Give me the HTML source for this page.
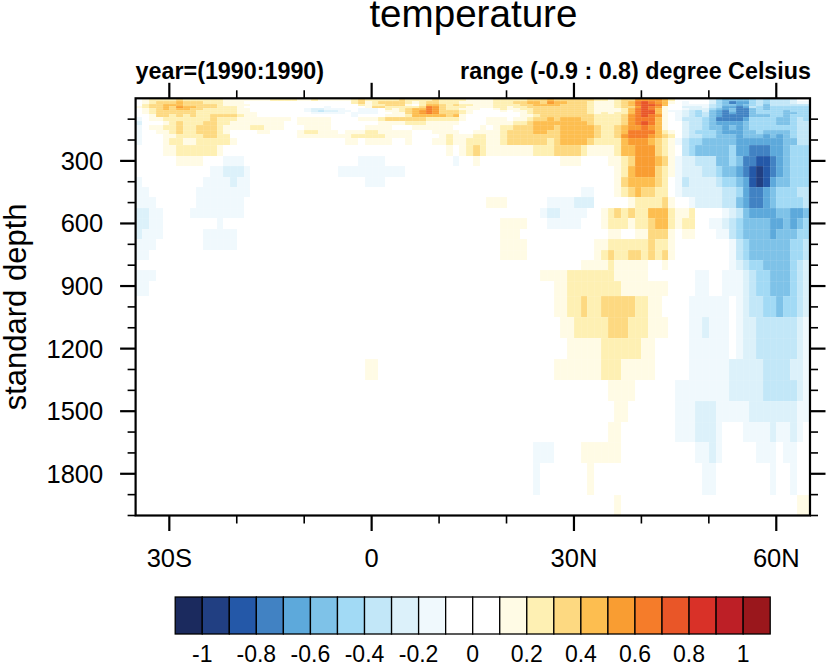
<!DOCTYPE html>
<html><head><meta charset="utf-8"><style>
html,body{margin:0;padding:0;background:#fff;width:827px;height:663px;overflow:hidden}
svg{position:absolute;left:0;top:0}
text{font-family:"Liberation Sans",sans-serif;fill:#000}
</style></head><body>
<svg width="827" height="663" viewBox="0 0 827 663">
<g shape-rendering="crispEdges"><rect x="142" y="98" width="7" height="3" fill="#fffbe5"/><rect x="149" y="98" width="27" height="3" fill="#fef0b3"/><rect x="176" y="98" width="7" height="3" fill="#fdd981"/><rect x="183" y="98" width="40" height="3" fill="#fef0b3"/><rect x="223" y="98" width="47" height="3" fill="#fffbe5"/><rect x="270" y="98" width="27" height="3" fill="#fef0b3"/><rect x="297" y="98" width="14" height="3" fill="#fffbe5"/><rect x="311" y="98" width="7" height="3" fill="#fef0b3"/><rect x="318" y="98" width="33" height="3" fill="#fffbe5"/><rect x="351" y="98" width="7" height="3" fill="#fef0b3"/><rect x="358" y="98" width="7" height="3" fill="#fdd981"/><rect x="365" y="98" width="34" height="3" fill="#fef0b3"/><rect x="399" y="98" width="6" height="3" fill="#fdd981"/><rect x="405" y="98" width="27" height="3" fill="#fef0b3"/><rect x="432" y="98" width="7" height="3" fill="#fdd981"/><rect x="439" y="98" width="27" height="3" fill="#fef0b3"/><rect x="466" y="98" width="27" height="3" fill="#fffbe5"/><rect x="493" y="98" width="34" height="3" fill="#fef0b3"/><rect x="527" y="98" width="20" height="3" fill="#fdd981"/><rect x="547" y="98" width="7" height="3" fill="#fdbe50"/><rect x="554" y="98" width="40" height="3" fill="#fdd981"/><rect x="594" y="98" width="14" height="3" fill="#fef0b3"/><rect x="608" y="98" width="6" height="3" fill="#fffbe5"/><rect x="614" y="98" width="7" height="3" fill="#fef0b3"/><rect x="621" y="98" width="14" height="3" fill="#fdd981"/><rect x="635" y="98" width="27" height="3" fill="#f99d32"/><rect x="662" y="98" width="6" height="3" fill="#fdbe50"/><rect x="668" y="98" width="7" height="3" fill="#fef0b3"/><rect x="709" y="98" width="7" height="3" fill="#dcf1fa"/><rect x="716" y="98" width="6" height="3" fill="#a2daf5"/><rect x="722" y="98" width="27" height="3" fill="#7ec2e8"/><rect x="749" y="98" width="7" height="3" fill="#a2daf5"/><rect x="756" y="98" width="7" height="3" fill="#c2e7f8"/><rect x="763" y="98" width="7" height="3" fill="#a2daf5"/><rect x="770" y="98" width="20" height="3" fill="#c2e7f8"/><rect x="790" y="98" width="7" height="3" fill="#dcf1fa"/><rect x="142" y="101" width="7" height="3" fill="#fffbe5"/><rect x="149" y="101" width="7" height="3" fill="#fef0b3"/><rect x="156" y="101" width="20" height="3" fill="#fdd981"/><rect x="176" y="101" width="7" height="3" fill="#fdbe50"/><rect x="183" y="101" width="20" height="3" fill="#fdd981"/><rect x="203" y="101" width="20" height="3" fill="#fef0b3"/><rect x="223" y="101" width="21" height="3" fill="#fffbe5"/><rect x="351" y="101" width="7" height="3" fill="#fef0b3"/><rect x="358" y="101" width="7" height="3" fill="#fdd981"/><rect x="365" y="101" width="7" height="3" fill="#fffbe5"/><rect x="372" y="101" width="6" height="3" fill="#fef0b3"/><rect x="378" y="101" width="27" height="3" fill="#fdd981"/><rect x="405" y="101" width="7" height="3" fill="#fef0b3"/><rect x="412" y="101" width="7" height="3" fill="#fffbe5"/><rect x="419" y="101" width="7" height="3" fill="#fef0b3"/><rect x="426" y="101" width="13" height="3" fill="#fdd981"/><rect x="439" y="101" width="20" height="3" fill="#fef0b3"/><rect x="459" y="101" width="34" height="3" fill="#fffbe5"/><rect x="493" y="101" width="20" height="3" fill="#fef0b3"/><rect x="513" y="101" width="14" height="3" fill="#fdd981"/><rect x="527" y="101" width="13" height="3" fill="#fdbe50"/><rect x="540" y="101" width="7" height="3" fill="#fdd981"/><rect x="547" y="101" width="7" height="3" fill="#f99d32"/><rect x="554" y="101" width="13" height="3" fill="#fdbe50"/><rect x="567" y="101" width="20" height="3" fill="#fdd981"/><rect x="587" y="101" width="7" height="3" fill="#fef0b3"/><rect x="594" y="101" width="20" height="3" fill="#fffbe5"/><rect x="614" y="101" width="7" height="3" fill="#fef0b3"/><rect x="621" y="101" width="7" height="3" fill="#fdd981"/><rect x="628" y="101" width="7" height="3" fill="#fdbe50"/><rect x="635" y="101" width="6" height="3" fill="#f57c2a"/><rect x="641" y="101" width="7" height="3" fill="#e95628"/><rect x="648" y="101" width="7" height="3" fill="#f57c2a"/><rect x="655" y="101" width="7" height="3" fill="#f99d32"/><rect x="662" y="101" width="6" height="3" fill="#fdbe50"/><rect x="668" y="101" width="7" height="3" fill="#fffbe5"/><rect x="682" y="101" width="7" height="3" fill="#f0f9fd"/><rect x="709" y="101" width="7" height="3" fill="#dcf1fa"/><rect x="716" y="101" width="6" height="3" fill="#a2daf5"/><rect x="722" y="101" width="7" height="3" fill="#7ec2e8"/><rect x="729" y="101" width="7" height="3" fill="#4182c3"/><rect x="736" y="101" width="13" height="3" fill="#5da9db"/><rect x="749" y="101" width="7" height="3" fill="#a2daf5"/><rect x="756" y="101" width="7" height="3" fill="#c2e7f8"/><rect x="763" y="101" width="7" height="3" fill="#a2daf5"/><rect x="770" y="101" width="20" height="3" fill="#c2e7f8"/><rect x="790" y="101" width="7" height="3" fill="#dcf1fa"/><rect x="797" y="101" width="13" height="3" fill="#f0f9fd"/><rect x="142" y="104" width="7" height="2" fill="#fef0b3"/><rect x="149" y="104" width="14" height="2" fill="#fdd981"/><rect x="163" y="104" width="20" height="2" fill="#fdbe50"/><rect x="183" y="104" width="34" height="2" fill="#fdd981"/><rect x="217" y="104" width="6" height="2" fill="#fef0b3"/><rect x="223" y="104" width="27" height="2" fill="#fffbe5"/><rect x="358" y="104" width="7" height="2" fill="#fef0b3"/><rect x="365" y="104" width="7" height="2" fill="#fffbe5"/><rect x="372" y="104" width="13" height="2" fill="#fef0b3"/><rect x="385" y="104" width="20" height="2" fill="#fdd981"/><rect x="405" y="104" width="7" height="2" fill="#fffbe5"/><rect x="419" y="104" width="7" height="2" fill="#fef0b3"/><rect x="426" y="104" width="13" height="2" fill="#fdbe50"/><rect x="439" y="104" width="7" height="2" fill="#fdd981"/><rect x="446" y="104" width="7" height="2" fill="#fef0b3"/><rect x="453" y="104" width="6" height="2" fill="#fdd981"/><rect x="459" y="104" width="14" height="2" fill="#fef0b3"/><rect x="473" y="104" width="20" height="2" fill="#fffbe5"/><rect x="493" y="104" width="27" height="2" fill="#fef0b3"/><rect x="520" y="104" width="13" height="2" fill="#fdd981"/><rect x="533" y="104" width="27" height="2" fill="#fdbe50"/><rect x="560" y="104" width="27" height="2" fill="#fdd981"/><rect x="587" y="104" width="7" height="2" fill="#fef0b3"/><rect x="594" y="104" width="20" height="2" fill="#fffbe5"/><rect x="614" y="104" width="7" height="2" fill="#fef0b3"/><rect x="621" y="104" width="7" height="2" fill="#fdd981"/><rect x="628" y="104" width="7" height="2" fill="#fdbe50"/><rect x="635" y="104" width="6" height="2" fill="#f57c2a"/><rect x="641" y="104" width="14" height="2" fill="#e95628"/><rect x="655" y="104" width="7" height="2" fill="#f57c2a"/><rect x="662" y="104" width="6" height="2" fill="#fdbe50"/><rect x="682" y="104" width="27" height="2" fill="#f0f9fd"/><rect x="709" y="104" width="7" height="2" fill="#c2e7f8"/><rect x="716" y="104" width="6" height="2" fill="#a2daf5"/><rect x="722" y="104" width="14" height="2" fill="#7ec2e8"/><rect x="736" y="104" width="7" height="2" fill="#5da9db"/><rect x="743" y="104" width="6" height="2" fill="#7ec2e8"/><rect x="749" y="104" width="7" height="2" fill="#a2daf5"/><rect x="756" y="104" width="7" height="2" fill="#c2e7f8"/><rect x="763" y="104" width="7" height="2" fill="#7ec2e8"/><rect x="770" y="104" width="40" height="2" fill="#c2e7f8"/><rect x="136" y="106" width="6" height="2" fill="#fffbe5"/><rect x="142" y="106" width="7" height="2" fill="#fef0b3"/><rect x="149" y="106" width="14" height="2" fill="#fdd981"/><rect x="163" y="106" width="6" height="2" fill="#fdbe50"/><rect x="169" y="106" width="7" height="2" fill="#fdd981"/><rect x="176" y="106" width="7" height="2" fill="#f99d32"/><rect x="183" y="106" width="13" height="2" fill="#fdbe50"/><rect x="196" y="106" width="21" height="2" fill="#fdd981"/><rect x="217" y="106" width="20" height="2" fill="#fef0b3"/><rect x="237" y="106" width="7" height="2" fill="#fffbe5"/><rect x="324" y="106" width="7" height="2" fill="#f0f9fd"/><rect x="365" y="106" width="7" height="2" fill="#fffbe5"/><rect x="372" y="106" width="13" height="2" fill="#fdd981"/><rect x="385" y="106" width="34" height="2" fill="#fef0b3"/><rect x="419" y="106" width="7" height="2" fill="#fdd981"/><rect x="426" y="106" width="6" height="2" fill="#f57c2a"/><rect x="432" y="106" width="7" height="2" fill="#f99d32"/><rect x="439" y="106" width="7" height="2" fill="#fdd981"/><rect x="446" y="106" width="20" height="2" fill="#fef0b3"/><rect x="466" y="106" width="27" height="2" fill="#fffbe5"/><rect x="493" y="106" width="14" height="2" fill="#fef0b3"/><rect x="507" y="106" width="6" height="2" fill="#fffbe5"/><rect x="513" y="106" width="14" height="2" fill="#fef0b3"/><rect x="527" y="106" width="60" height="2" fill="#fdd981"/><rect x="587" y="106" width="7" height="2" fill="#fef0b3"/><rect x="594" y="106" width="20" height="2" fill="#fffbe5"/><rect x="614" y="106" width="7" height="2" fill="#fef0b3"/><rect x="621" y="106" width="14" height="2" fill="#fdd981"/><rect x="635" y="106" width="6" height="2" fill="#f99d32"/><rect x="641" y="106" width="7" height="2" fill="#e95628"/><rect x="648" y="106" width="7" height="2" fill="#f57c2a"/><rect x="655" y="106" width="7" height="2" fill="#f99d32"/><rect x="662" y="106" width="6" height="2" fill="#fffbe5"/><rect x="682" y="106" width="20" height="2" fill="#dcf1fa"/><rect x="702" y="106" width="7" height="2" fill="#f0f9fd"/><rect x="709" y="106" width="7" height="2" fill="#c2e7f8"/><rect x="716" y="106" width="6" height="2" fill="#a2daf5"/><rect x="722" y="106" width="14" height="2" fill="#5da9db"/><rect x="736" y="106" width="7" height="2" fill="#4182c3"/><rect x="743" y="106" width="6" height="2" fill="#5da9db"/><rect x="749" y="106" width="7" height="2" fill="#c2e7f8"/><rect x="756" y="106" width="7" height="2" fill="#a2daf5"/><rect x="763" y="106" width="7" height="2" fill="#7ec2e8"/><rect x="770" y="106" width="40" height="2" fill="#a2daf5"/><rect x="142" y="108" width="7" height="2" fill="#fffbe5"/><rect x="149" y="108" width="7" height="2" fill="#fef0b3"/><rect x="156" y="108" width="7" height="2" fill="#fdd981"/><rect x="163" y="108" width="6" height="2" fill="#fdbe50"/><rect x="169" y="108" width="7" height="2" fill="#fdd981"/><rect x="176" y="108" width="14" height="2" fill="#fdbe50"/><rect x="190" y="108" width="13" height="2" fill="#fdd981"/><rect x="203" y="108" width="34" height="2" fill="#fef0b3"/><rect x="237" y="108" width="13" height="2" fill="#fffbe5"/><rect x="304" y="108" width="7" height="2" fill="#f0f9fd"/><rect x="311" y="108" width="13" height="2" fill="#dcf1fa"/><rect x="324" y="108" width="21" height="2" fill="#f0f9fd"/><rect x="358" y="108" width="20" height="2" fill="#f0f9fd"/><rect x="385" y="108" width="7" height="2" fill="#fef0b3"/><rect x="392" y="108" width="7" height="2" fill="#fffbe5"/><rect x="399" y="108" width="6" height="2" fill="#fef0b3"/><rect x="405" y="108" width="7" height="2" fill="#fdd981"/><rect x="412" y="108" width="14" height="2" fill="#fdbe50"/><rect x="426" y="108" width="6" height="2" fill="#f57c2a"/><rect x="432" y="108" width="7" height="2" fill="#f99d32"/><rect x="439" y="108" width="7" height="2" fill="#fdd981"/><rect x="446" y="108" width="13" height="2" fill="#fef0b3"/><rect x="459" y="108" width="21" height="2" fill="#fffbe5"/><rect x="493" y="108" width="7" height="2" fill="#fffbe5"/><rect x="500" y="108" width="7" height="2" fill="#fef0b3"/><rect x="507" y="108" width="13" height="2" fill="#fffbe5"/><rect x="520" y="108" width="13" height="2" fill="#fef0b3"/><rect x="533" y="108" width="54" height="2" fill="#fdd981"/><rect x="587" y="108" width="7" height="2" fill="#fef0b3"/><rect x="594" y="108" width="27" height="2" fill="#fffbe5"/><rect x="621" y="108" width="7" height="2" fill="#fef0b3"/><rect x="628" y="108" width="7" height="2" fill="#fdbe50"/><rect x="635" y="108" width="6" height="2" fill="#f57c2a"/><rect x="641" y="108" width="7" height="2" fill="#e95628"/><rect x="648" y="108" width="7" height="2" fill="#f57c2a"/><rect x="655" y="108" width="7" height="2" fill="#fdbe50"/><rect x="662" y="108" width="6" height="2" fill="#fffbe5"/><rect x="682" y="108" width="7" height="2" fill="#f0f9fd"/><rect x="689" y="108" width="20" height="2" fill="#dcf1fa"/><rect x="709" y="108" width="7" height="2" fill="#a2daf5"/><rect x="716" y="108" width="6" height="2" fill="#7ec2e8"/><rect x="722" y="108" width="7" height="2" fill="#5da9db"/><rect x="729" y="108" width="7" height="2" fill="#7ec2e8"/><rect x="736" y="108" width="13" height="2" fill="#4182c3"/><rect x="749" y="108" width="7" height="2" fill="#7ec2e8"/><rect x="756" y="108" width="7" height="2" fill="#a2daf5"/><rect x="763" y="108" width="7" height="2" fill="#7ec2e8"/><rect x="770" y="108" width="40" height="2" fill="#a2daf5"/><rect x="142" y="110" width="7" height="2" fill="#fffbe5"/><rect x="149" y="110" width="7" height="2" fill="#fef0b3"/><rect x="156" y="110" width="40" height="2" fill="#fdd981"/><rect x="196" y="110" width="41" height="2" fill="#fef0b3"/><rect x="237" y="110" width="13" height="2" fill="#fffbe5"/><rect x="304" y="110" width="7" height="2" fill="#f0f9fd"/><rect x="311" y="110" width="7" height="2" fill="#dcf1fa"/><rect x="318" y="110" width="6" height="2" fill="#c2e7f8"/><rect x="324" y="110" width="14" height="2" fill="#dcf1fa"/><rect x="338" y="110" width="13" height="2" fill="#f0f9fd"/><rect x="358" y="110" width="20" height="2" fill="#f0f9fd"/><rect x="385" y="110" width="14" height="2" fill="#fffbe5"/><rect x="399" y="110" width="6" height="2" fill="#fef0b3"/><rect x="405" y="110" width="7" height="2" fill="#fdd981"/><rect x="412" y="110" width="7" height="2" fill="#fdbe50"/><rect x="419" y="110" width="7" height="2" fill="#f99d32"/><rect x="426" y="110" width="6" height="2" fill="#f57c2a"/><rect x="432" y="110" width="7" height="2" fill="#f99d32"/><rect x="439" y="110" width="20" height="2" fill="#fdd981"/><rect x="459" y="110" width="7" height="2" fill="#fef0b3"/><rect x="466" y="110" width="7" height="2" fill="#fffbe5"/><rect x="500" y="110" width="7" height="2" fill="#fffbe5"/><rect x="513" y="110" width="14" height="2" fill="#fffbe5"/><rect x="527" y="110" width="6" height="2" fill="#fef0b3"/><rect x="533" y="110" width="54" height="2" fill="#fdd981"/><rect x="587" y="110" width="7" height="2" fill="#fef0b3"/><rect x="594" y="110" width="27" height="2" fill="#fffbe5"/><rect x="621" y="110" width="7" height="2" fill="#fef0b3"/><rect x="628" y="110" width="7" height="2" fill="#fdbe50"/><rect x="635" y="110" width="6" height="2" fill="#f57c2a"/><rect x="641" y="110" width="14" height="2" fill="#e95628"/><rect x="655" y="110" width="7" height="2" fill="#fdbe50"/><rect x="662" y="110" width="6" height="2" fill="#fffbe5"/><rect x="668" y="110" width="14" height="2" fill="#f0f9fd"/><rect x="682" y="110" width="7" height="2" fill="#dcf1fa"/><rect x="689" y="110" width="6" height="2" fill="#c2e7f8"/><rect x="695" y="110" width="7" height="2" fill="#a2daf5"/><rect x="702" y="110" width="7" height="2" fill="#dcf1fa"/><rect x="709" y="110" width="7" height="2" fill="#7ec2e8"/><rect x="716" y="110" width="6" height="2" fill="#5da9db"/><rect x="722" y="110" width="7" height="2" fill="#4182c3"/><rect x="729" y="110" width="7" height="2" fill="#7ec2e8"/><rect x="736" y="110" width="13" height="2" fill="#4182c3"/><rect x="749" y="110" width="7" height="2" fill="#7ec2e8"/><rect x="756" y="110" width="27" height="2" fill="#a2daf5"/><rect x="783" y="110" width="7" height="2" fill="#7ec2e8"/><rect x="790" y="110" width="20" height="2" fill="#a2daf5"/><rect x="142" y="112" width="7" height="2" fill="#fffbe5"/><rect x="149" y="112" width="7" height="2" fill="#fef0b3"/><rect x="156" y="112" width="40" height="2" fill="#fdd981"/><rect x="196" y="112" width="41" height="2" fill="#fef0b3"/><rect x="237" y="112" width="20" height="2" fill="#fffbe5"/><rect x="311" y="112" width="34" height="2" fill="#f0f9fd"/><rect x="351" y="112" width="27" height="2" fill="#f0f9fd"/><rect x="392" y="112" width="13" height="2" fill="#fffbe5"/><rect x="405" y="112" width="7" height="2" fill="#fdd981"/><rect x="412" y="112" width="7" height="2" fill="#fdbe50"/><rect x="419" y="112" width="7" height="2" fill="#f99d32"/><rect x="426" y="112" width="6" height="2" fill="#f57c2a"/><rect x="432" y="112" width="7" height="2" fill="#f99d32"/><rect x="439" y="112" width="20" height="2" fill="#fdd981"/><rect x="459" y="112" width="7" height="2" fill="#fef0b3"/><rect x="466" y="112" width="7" height="2" fill="#fffbe5"/><rect x="520" y="112" width="7" height="2" fill="#fffbe5"/><rect x="527" y="112" width="6" height="2" fill="#fef0b3"/><rect x="533" y="112" width="54" height="2" fill="#fdd981"/><rect x="587" y="112" width="7" height="2" fill="#fef0b3"/><rect x="594" y="112" width="7" height="2" fill="#fffbe5"/><rect x="601" y="112" width="7" height="2" fill="#fef0b3"/><rect x="608" y="112" width="6" height="2" fill="#fffbe5"/><rect x="614" y="112" width="14" height="2" fill="#fef0b3"/><rect x="628" y="112" width="7" height="2" fill="#fdbe50"/><rect x="635" y="112" width="6" height="2" fill="#f57c2a"/><rect x="641" y="112" width="14" height="2" fill="#e95628"/><rect x="655" y="112" width="7" height="2" fill="#fdbe50"/><rect x="662" y="112" width="6" height="2" fill="#fffbe5"/><rect x="675" y="112" width="7" height="2" fill="#f0f9fd"/><rect x="682" y="112" width="7" height="2" fill="#dcf1fa"/><rect x="689" y="112" width="6" height="2" fill="#c2e7f8"/><rect x="695" y="112" width="7" height="2" fill="#a2daf5"/><rect x="702" y="112" width="7" height="2" fill="#c2e7f8"/><rect x="709" y="112" width="7" height="2" fill="#7ec2e8"/><rect x="716" y="112" width="6" height="2" fill="#5da9db"/><rect x="722" y="112" width="7" height="2" fill="#4182c3"/><rect x="729" y="112" width="7" height="2" fill="#5da9db"/><rect x="736" y="112" width="13" height="2" fill="#4182c3"/><rect x="749" y="112" width="7" height="2" fill="#7ec2e8"/><rect x="756" y="112" width="27" height="2" fill="#a2daf5"/><rect x="783" y="112" width="14" height="2" fill="#7ec2e8"/><rect x="797" y="112" width="13" height="2" fill="#a2daf5"/><rect x="149" y="114" width="7" height="3" fill="#fffbe5"/><rect x="156" y="114" width="13" height="3" fill="#fdd981"/><rect x="169" y="114" width="7" height="3" fill="#fef0b3"/><rect x="176" y="114" width="7" height="3" fill="#fdd981"/><rect x="183" y="114" width="7" height="3" fill="#fef0b3"/><rect x="190" y="114" width="6" height="3" fill="#fdd981"/><rect x="196" y="114" width="14" height="3" fill="#fef0b3"/><rect x="210" y="114" width="27" height="3" fill="#fdd981"/><rect x="237" y="114" width="7" height="3" fill="#fef0b3"/><rect x="244" y="114" width="13" height="3" fill="#fffbe5"/><rect x="351" y="114" width="7" height="3" fill="#f0f9fd"/><rect x="385" y="114" width="20" height="3" fill="#fffbe5"/><rect x="405" y="114" width="7" height="3" fill="#fef0b3"/><rect x="412" y="114" width="34" height="3" fill="#fdbe50"/><rect x="446" y="114" width="7" height="3" fill="#fdd981"/><rect x="453" y="114" width="6" height="3" fill="#fdbe50"/><rect x="459" y="114" width="7" height="3" fill="#fffbe5"/><rect x="520" y="114" width="13" height="3" fill="#fffbe5"/><rect x="533" y="114" width="7" height="3" fill="#fef0b3"/><rect x="540" y="114" width="54" height="3" fill="#fdd981"/><rect x="594" y="114" width="27" height="3" fill="#fef0b3"/><rect x="621" y="114" width="7" height="3" fill="#fdd981"/><rect x="628" y="114" width="7" height="3" fill="#f99d32"/><rect x="635" y="114" width="6" height="3" fill="#f57c2a"/><rect x="641" y="114" width="7" height="3" fill="#e95628"/><rect x="648" y="114" width="7" height="3" fill="#f57c2a"/><rect x="655" y="114" width="7" height="3" fill="#f99d32"/><rect x="662" y="114" width="6" height="3" fill="#fffbe5"/><rect x="675" y="114" width="7" height="3" fill="#f0f9fd"/><rect x="682" y="114" width="7" height="3" fill="#dcf1fa"/><rect x="689" y="114" width="6" height="3" fill="#c2e7f8"/><rect x="695" y="114" width="7" height="3" fill="#a2daf5"/><rect x="702" y="114" width="7" height="3" fill="#c2e7f8"/><rect x="709" y="114" width="7" height="3" fill="#7ec2e8"/><rect x="716" y="114" width="6" height="3" fill="#5da9db"/><rect x="722" y="114" width="27" height="3" fill="#4182c3"/><rect x="749" y="114" width="21" height="3" fill="#7ec2e8"/><rect x="770" y="114" width="13" height="3" fill="#a2daf5"/><rect x="783" y="114" width="7" height="3" fill="#7ec2e8"/><rect x="790" y="114" width="20" height="3" fill="#a2daf5"/><rect x="136" y="117" width="6" height="4" fill="#f0f9fd"/><rect x="149" y="117" width="14" height="4" fill="#fffbe5"/><rect x="163" y="117" width="47" height="4" fill="#fef0b3"/><rect x="210" y="117" width="7" height="4" fill="#fdd981"/><rect x="217" y="117" width="20" height="4" fill="#fef0b3"/><rect x="237" y="117" width="54" height="4" fill="#fffbe5"/><rect x="297" y="117" width="34" height="4" fill="#fffbe5"/><rect x="358" y="117" width="20" height="4" fill="#fffbe5"/><rect x="378" y="117" width="7" height="4" fill="#fef0b3"/><rect x="385" y="117" width="41" height="4" fill="#fdd981"/><rect x="426" y="117" width="33" height="4" fill="#fef0b3"/><rect x="459" y="117" width="7" height="4" fill="#fffbe5"/><rect x="486" y="117" width="21" height="4" fill="#fffbe5"/><rect x="513" y="117" width="14" height="4" fill="#fffbe5"/><rect x="527" y="117" width="6" height="4" fill="#fef0b3"/><rect x="533" y="117" width="14" height="4" fill="#fdd981"/><rect x="547" y="117" width="7" height="4" fill="#fdbe50"/><rect x="554" y="117" width="6" height="4" fill="#fdd981"/><rect x="560" y="117" width="21" height="4" fill="#fdbe50"/><rect x="581" y="117" width="13" height="4" fill="#fdd981"/><rect x="594" y="117" width="27" height="4" fill="#fef0b3"/><rect x="621" y="117" width="7" height="4" fill="#fdd981"/><rect x="628" y="117" width="7" height="4" fill="#f99d32"/><rect x="635" y="117" width="20" height="4" fill="#f57c2a"/><rect x="655" y="117" width="7" height="4" fill="#fdbe50"/><rect x="662" y="117" width="6" height="4" fill="#fffbe5"/><rect x="675" y="117" width="7" height="4" fill="#f0f9fd"/><rect x="682" y="117" width="20" height="4" fill="#c2e7f8"/><rect x="702" y="117" width="7" height="4" fill="#a2daf5"/><rect x="709" y="117" width="7" height="4" fill="#7ec2e8"/><rect x="716" y="117" width="27" height="4" fill="#4182c3"/><rect x="743" y="117" width="6" height="4" fill="#5da9db"/><rect x="749" y="117" width="27" height="4" fill="#a2daf5"/><rect x="776" y="117" width="14" height="4" fill="#7ec2e8"/><rect x="790" y="117" width="7" height="4" fill="#a2daf5"/><rect x="797" y="117" width="6" height="4" fill="#c2e7f8"/><rect x="803" y="117" width="7" height="4" fill="#a2daf5"/><rect x="136" y="121" width="6" height="4" fill="#dcf1fa"/><rect x="163" y="121" width="6" height="4" fill="#fffbe5"/><rect x="169" y="121" width="7" height="4" fill="#fef0b3"/><rect x="176" y="121" width="7" height="4" fill="#fdd981"/><rect x="183" y="121" width="20" height="4" fill="#fef0b3"/><rect x="203" y="121" width="14" height="4" fill="#fdd981"/><rect x="217" y="121" width="13" height="4" fill="#fef0b3"/><rect x="230" y="121" width="54" height="4" fill="#fffbe5"/><rect x="297" y="121" width="34" height="4" fill="#fffbe5"/><rect x="378" y="121" width="27" height="4" fill="#fffbe5"/><rect x="405" y="121" width="21" height="4" fill="#fef0b3"/><rect x="426" y="121" width="33" height="4" fill="#fffbe5"/><rect x="486" y="121" width="27" height="4" fill="#fffbe5"/><rect x="513" y="121" width="14" height="4" fill="#fef0b3"/><rect x="527" y="121" width="6" height="4" fill="#fdd981"/><rect x="533" y="121" width="54" height="4" fill="#fdbe50"/><rect x="587" y="121" width="7" height="4" fill="#fdd981"/><rect x="594" y="121" width="27" height="4" fill="#fef0b3"/><rect x="621" y="121" width="7" height="4" fill="#fdd981"/><rect x="628" y="121" width="7" height="4" fill="#f99d32"/><rect x="635" y="121" width="6" height="4" fill="#f57c2a"/><rect x="641" y="121" width="7" height="4" fill="#e95628"/><rect x="648" y="121" width="7" height="4" fill="#f57c2a"/><rect x="655" y="121" width="7" height="4" fill="#fdbe50"/><rect x="662" y="121" width="6" height="4" fill="#fffbe5"/><rect x="682" y="121" width="7" height="4" fill="#dcf1fa"/><rect x="689" y="121" width="13" height="4" fill="#c2e7f8"/><rect x="702" y="121" width="7" height="4" fill="#a2daf5"/><rect x="709" y="121" width="7" height="4" fill="#7ec2e8"/><rect x="716" y="121" width="27" height="4" fill="#5da9db"/><rect x="743" y="121" width="6" height="4" fill="#7ec2e8"/><rect x="749" y="121" width="27" height="4" fill="#a2daf5"/><rect x="776" y="121" width="14" height="4" fill="#7ec2e8"/><rect x="790" y="121" width="7" height="4" fill="#a2daf5"/><rect x="797" y="121" width="13" height="4" fill="#c2e7f8"/><rect x="136" y="125" width="6" height="5" fill="#f0f9fd"/><rect x="149" y="125" width="14" height="5" fill="#fffbe5"/><rect x="163" y="125" width="13" height="5" fill="#fef0b3"/><rect x="176" y="125" width="7" height="5" fill="#fdd981"/><rect x="183" y="125" width="13" height="5" fill="#fef0b3"/><rect x="196" y="125" width="21" height="5" fill="#fdd981"/><rect x="217" y="125" width="6" height="5" fill="#fef0b3"/><rect x="223" y="125" width="27" height="5" fill="#fffbe5"/><rect x="250" y="125" width="14" height="5" fill="#fef0b3"/><rect x="264" y="125" width="20" height="5" fill="#fffbe5"/><rect x="304" y="125" width="27" height="5" fill="#fffbe5"/><rect x="365" y="125" width="27" height="5" fill="#fffbe5"/><rect x="412" y="125" width="41" height="5" fill="#fffbe5"/><rect x="480" y="125" width="6" height="5" fill="#fffbe5"/><rect x="493" y="125" width="7" height="5" fill="#fffbe5"/><rect x="500" y="125" width="13" height="5" fill="#fef0b3"/><rect x="513" y="125" width="20" height="5" fill="#fdd981"/><rect x="533" y="125" width="21" height="5" fill="#fdbe50"/><rect x="554" y="125" width="6" height="5" fill="#fdd981"/><rect x="560" y="125" width="34" height="5" fill="#fdbe50"/><rect x="594" y="125" width="7" height="5" fill="#fdd981"/><rect x="601" y="125" width="13" height="5" fill="#fef0b3"/><rect x="614" y="125" width="7" height="5" fill="#fdd981"/><rect x="621" y="125" width="7" height="5" fill="#fdbe50"/><rect x="628" y="125" width="13" height="5" fill="#f99d32"/><rect x="641" y="125" width="7" height="5" fill="#f57c2a"/><rect x="648" y="125" width="7" height="5" fill="#f99d32"/><rect x="655" y="125" width="7" height="5" fill="#fdbe50"/><rect x="662" y="125" width="6" height="5" fill="#fffbe5"/><rect x="682" y="125" width="7" height="5" fill="#dcf1fa"/><rect x="689" y="125" width="13" height="5" fill="#c2e7f8"/><rect x="702" y="125" width="7" height="5" fill="#a2daf5"/><rect x="709" y="125" width="13" height="5" fill="#7ec2e8"/><rect x="722" y="125" width="7" height="5" fill="#5da9db"/><rect x="729" y="125" width="7" height="5" fill="#7ec2e8"/><rect x="736" y="125" width="7" height="5" fill="#5da9db"/><rect x="743" y="125" width="6" height="5" fill="#7ec2e8"/><rect x="749" y="125" width="48" height="5" fill="#a2daf5"/><rect x="797" y="125" width="13" height="5" fill="#c2e7f8"/><rect x="136" y="130" width="6" height="4" fill="#f0f9fd"/><rect x="156" y="130" width="13" height="4" fill="#fffbe5"/><rect x="169" y="130" width="7" height="4" fill="#fef0b3"/><rect x="176" y="130" width="7" height="4" fill="#fdd981"/><rect x="183" y="130" width="13" height="4" fill="#fef0b3"/><rect x="196" y="130" width="21" height="4" fill="#fdd981"/><rect x="217" y="130" width="6" height="4" fill="#fef0b3"/><rect x="223" y="130" width="7" height="4" fill="#fffbe5"/><rect x="257" y="130" width="13" height="4" fill="#fffbe5"/><rect x="297" y="130" width="7" height="4" fill="#fffbe5"/><rect x="304" y="130" width="14" height="4" fill="#fef0b3"/><rect x="318" y="130" width="20" height="4" fill="#fffbe5"/><rect x="345" y="130" width="20" height="4" fill="#fffbe5"/><rect x="365" y="130" width="13" height="4" fill="#fef0b3"/><rect x="378" y="130" width="34" height="4" fill="#fffbe5"/><rect x="432" y="130" width="27" height="4" fill="#fffbe5"/><rect x="473" y="130" width="27" height="4" fill="#fffbe5"/><rect x="500" y="130" width="7" height="4" fill="#fef0b3"/><rect x="507" y="130" width="26" height="4" fill="#fdd981"/><rect x="533" y="130" width="14" height="4" fill="#fdbe50"/><rect x="547" y="130" width="13" height="4" fill="#fdd981"/><rect x="560" y="130" width="34" height="4" fill="#fdbe50"/><rect x="594" y="130" width="7" height="4" fill="#fdd981"/><rect x="601" y="130" width="13" height="4" fill="#fef0b3"/><rect x="614" y="130" width="7" height="4" fill="#fdd981"/><rect x="621" y="130" width="7" height="4" fill="#fdbe50"/><rect x="628" y="130" width="27" height="4" fill="#f57c2a"/><rect x="655" y="130" width="7" height="4" fill="#fdbe50"/><rect x="662" y="130" width="6" height="4" fill="#fef0b3"/><rect x="668" y="130" width="7" height="4" fill="#fffbe5"/><rect x="682" y="130" width="7" height="4" fill="#dcf1fa"/><rect x="689" y="130" width="6" height="4" fill="#c2e7f8"/><rect x="695" y="130" width="21" height="4" fill="#a2daf5"/><rect x="716" y="130" width="6" height="4" fill="#7ec2e8"/><rect x="722" y="130" width="21" height="4" fill="#5da9db"/><rect x="743" y="130" width="13" height="4" fill="#7ec2e8"/><rect x="756" y="130" width="7" height="4" fill="#a2daf5"/><rect x="763" y="130" width="27" height="4" fill="#7ec2e8"/><rect x="790" y="130" width="7" height="4" fill="#a2daf5"/><rect x="797" y="130" width="13" height="4" fill="#c2e7f8"/><rect x="136" y="134" width="6" height="4" fill="#f0f9fd"/><rect x="163" y="134" width="13" height="4" fill="#fffbe5"/><rect x="176" y="134" width="27" height="4" fill="#fef0b3"/><rect x="203" y="134" width="14" height="4" fill="#fdd981"/><rect x="217" y="134" width="13" height="4" fill="#fef0b3"/><rect x="297" y="134" width="54" height="4" fill="#fffbe5"/><rect x="351" y="134" width="34" height="4" fill="#fef0b3"/><rect x="385" y="134" width="27" height="4" fill="#fffbe5"/><rect x="439" y="134" width="7" height="4" fill="#fffbe5"/><rect x="446" y="134" width="7" height="4" fill="#fef0b3"/><rect x="453" y="134" width="20" height="4" fill="#fffbe5"/><rect x="473" y="134" width="13" height="4" fill="#fef0b3"/><rect x="486" y="134" width="14" height="4" fill="#fffbe5"/><rect x="500" y="134" width="7" height="4" fill="#fef0b3"/><rect x="507" y="134" width="53" height="4" fill="#fdd981"/><rect x="560" y="134" width="34" height="4" fill="#fdbe50"/><rect x="594" y="134" width="7" height="4" fill="#fdd981"/><rect x="601" y="134" width="13" height="4" fill="#fef0b3"/><rect x="614" y="134" width="7" height="4" fill="#fdd981"/><rect x="621" y="134" width="7" height="4" fill="#f99d32"/><rect x="628" y="134" width="20" height="4" fill="#f57c2a"/><rect x="648" y="134" width="7" height="4" fill="#f99d32"/><rect x="655" y="134" width="7" height="4" fill="#fdbe50"/><rect x="662" y="134" width="6" height="4" fill="#fdd981"/><rect x="668" y="134" width="7" height="4" fill="#fef0b3"/><rect x="682" y="134" width="7" height="4" fill="#dcf1fa"/><rect x="689" y="134" width="13" height="4" fill="#c2e7f8"/><rect x="702" y="134" width="14" height="4" fill="#a2daf5"/><rect x="716" y="134" width="20" height="4" fill="#7ec2e8"/><rect x="736" y="134" width="7" height="4" fill="#5da9db"/><rect x="743" y="134" width="20" height="4" fill="#7ec2e8"/><rect x="763" y="134" width="7" height="4" fill="#5da9db"/><rect x="770" y="134" width="6" height="4" fill="#7ec2e8"/><rect x="776" y="134" width="7" height="4" fill="#5da9db"/><rect x="783" y="134" width="7" height="4" fill="#7ec2e8"/><rect x="790" y="134" width="7" height="4" fill="#a2daf5"/><rect x="797" y="134" width="13" height="4" fill="#c2e7f8"/><rect x="136" y="138" width="6" height="7" fill="#f0f9fd"/><rect x="163" y="138" width="6" height="7" fill="#fffbe5"/><rect x="169" y="138" width="14" height="7" fill="#fef0b3"/><rect x="183" y="138" width="13" height="7" fill="#fffbe5"/><rect x="196" y="138" width="34" height="7" fill="#fef0b3"/><rect x="230" y="138" width="7" height="7" fill="#fffbe5"/><rect x="345" y="138" width="13" height="7" fill="#fffbe5"/><rect x="365" y="138" width="27" height="7" fill="#fffbe5"/><rect x="405" y="138" width="7" height="7" fill="#fffbe5"/><rect x="432" y="138" width="14" height="7" fill="#fffbe5"/><rect x="446" y="138" width="7" height="7" fill="#fef0b3"/><rect x="453" y="138" width="13" height="7" fill="#fffbe5"/><rect x="466" y="138" width="20" height="7" fill="#fef0b3"/><rect x="486" y="138" width="14" height="7" fill="#fffbe5"/><rect x="500" y="138" width="7" height="7" fill="#fef0b3"/><rect x="507" y="138" width="40" height="7" fill="#fdd981"/><rect x="547" y="138" width="7" height="7" fill="#fef0b3"/><rect x="554" y="138" width="6" height="7" fill="#fdd981"/><rect x="560" y="138" width="27" height="7" fill="#fdbe50"/><rect x="587" y="138" width="7" height="7" fill="#fdd981"/><rect x="594" y="138" width="27" height="7" fill="#fef0b3"/><rect x="621" y="138" width="7" height="7" fill="#fdbe50"/><rect x="628" y="138" width="20" height="7" fill="#f99d32"/><rect x="648" y="138" width="7" height="7" fill="#fdbe50"/><rect x="655" y="138" width="7" height="7" fill="#fdd981"/><rect x="662" y="138" width="6" height="7" fill="#fef0b3"/><rect x="668" y="138" width="7" height="7" fill="#fffbe5"/><rect x="675" y="138" width="7" height="7" fill="#f0f9fd"/><rect x="682" y="138" width="7" height="7" fill="#c2e7f8"/><rect x="689" y="138" width="13" height="7" fill="#a2daf5"/><rect x="702" y="138" width="34" height="7" fill="#7ec2e8"/><rect x="736" y="138" width="47" height="7" fill="#5da9db"/><rect x="783" y="138" width="14" height="7" fill="#7ec2e8"/><rect x="797" y="138" width="13" height="7" fill="#c2e7f8"/><rect x="163" y="145" width="13" height="11" fill="#fffbe5"/><rect x="176" y="145" width="41" height="11" fill="#fef0b3"/><rect x="217" y="145" width="6" height="11" fill="#fffbe5"/><rect x="446" y="145" width="7" height="11" fill="#fffbe5"/><rect x="459" y="145" width="7" height="11" fill="#fffbe5"/><rect x="466" y="145" width="7" height="11" fill="#fef0b3"/><rect x="473" y="145" width="7" height="11" fill="#fdd981"/><rect x="480" y="145" width="6" height="11" fill="#fef0b3"/><rect x="486" y="145" width="47" height="11" fill="#fffbe5"/><rect x="533" y="145" width="21" height="11" fill="#fef0b3"/><rect x="554" y="145" width="27" height="11" fill="#fdd981"/><rect x="581" y="145" width="6" height="11" fill="#fef0b3"/><rect x="587" y="145" width="27" height="11" fill="#fffbe5"/><rect x="614" y="145" width="7" height="11" fill="#fef0b3"/><rect x="621" y="145" width="14" height="11" fill="#fdbe50"/><rect x="635" y="145" width="20" height="11" fill="#f99d32"/><rect x="655" y="145" width="7" height="11" fill="#fdd981"/><rect x="662" y="145" width="6" height="11" fill="#fef0b3"/><rect x="668" y="145" width="7" height="11" fill="#fffbe5"/><rect x="682" y="145" width="7" height="11" fill="#c2e7f8"/><rect x="689" y="145" width="6" height="11" fill="#a2daf5"/><rect x="695" y="145" width="34" height="11" fill="#7ec2e8"/><rect x="729" y="145" width="7" height="11" fill="#a2daf5"/><rect x="736" y="145" width="13" height="11" fill="#5da9db"/><rect x="749" y="145" width="21" height="11" fill="#4182c3"/><rect x="770" y="145" width="13" height="11" fill="#5da9db"/><rect x="783" y="145" width="7" height="11" fill="#7ec2e8"/><rect x="790" y="145" width="20" height="11" fill="#a2daf5"/><rect x="176" y="156" width="27" height="10" fill="#fffbe5"/><rect x="223" y="156" width="21" height="10" fill="#f0f9fd"/><rect x="358" y="156" width="27" height="10" fill="#f0f9fd"/><rect x="453" y="156" width="6" height="10" fill="#f0f9fd"/><rect x="473" y="156" width="7" height="10" fill="#fffbe5"/><rect x="560" y="156" width="21" height="10" fill="#fffbe5"/><rect x="608" y="156" width="13" height="10" fill="#fffbe5"/><rect x="621" y="156" width="7" height="10" fill="#fef0b3"/><rect x="628" y="156" width="7" height="10" fill="#fdd981"/><rect x="635" y="156" width="20" height="10" fill="#f99d32"/><rect x="655" y="156" width="7" height="10" fill="#fdbe50"/><rect x="662" y="156" width="6" height="10" fill="#fdd981"/><rect x="668" y="156" width="7" height="10" fill="#fffbe5"/><rect x="675" y="156" width="7" height="10" fill="#f0f9fd"/><rect x="682" y="156" width="13" height="10" fill="#dcf1fa"/><rect x="695" y="156" width="21" height="10" fill="#c2e7f8"/><rect x="716" y="156" width="13" height="10" fill="#7ec2e8"/><rect x="729" y="156" width="7" height="10" fill="#a2daf5"/><rect x="736" y="156" width="7" height="10" fill="#7ec2e8"/><rect x="743" y="156" width="13" height="10" fill="#4182c3"/><rect x="756" y="156" width="14" height="10" fill="#2458a8"/><rect x="770" y="156" width="6" height="10" fill="#4182c3"/><rect x="776" y="156" width="7" height="10" fill="#5da9db"/><rect x="783" y="156" width="7" height="10" fill="#7ec2e8"/><rect x="790" y="156" width="20" height="10" fill="#a2daf5"/><rect x="210" y="166" width="13" height="11" fill="#f0f9fd"/><rect x="223" y="166" width="21" height="11" fill="#dcf1fa"/><rect x="244" y="166" width="6" height="11" fill="#f0f9fd"/><rect x="338" y="166" width="67" height="11" fill="#f0f9fd"/><rect x="614" y="166" width="7" height="11" fill="#fffbe5"/><rect x="621" y="166" width="7" height="11" fill="#fef0b3"/><rect x="628" y="166" width="7" height="11" fill="#fdbe50"/><rect x="635" y="166" width="20" height="11" fill="#f99d32"/><rect x="655" y="166" width="7" height="11" fill="#fdd981"/><rect x="662" y="166" width="6" height="11" fill="#fef0b3"/><rect x="668" y="166" width="7" height="11" fill="#fffbe5"/><rect x="675" y="166" width="7" height="11" fill="#f0f9fd"/><rect x="682" y="166" width="20" height="11" fill="#dcf1fa"/><rect x="702" y="166" width="14" height="11" fill="#c2e7f8"/><rect x="716" y="166" width="6" height="11" fill="#a2daf5"/><rect x="722" y="166" width="14" height="11" fill="#7ec2e8"/><rect x="736" y="166" width="7" height="11" fill="#5da9db"/><rect x="743" y="166" width="6" height="11" fill="#4182c3"/><rect x="749" y="166" width="7" height="11" fill="#2458a8"/><rect x="756" y="166" width="7" height="11" fill="#213f82"/><rect x="763" y="166" width="7" height="11" fill="#2458a8"/><rect x="770" y="166" width="6" height="11" fill="#4182c3"/><rect x="776" y="166" width="7" height="11" fill="#5da9db"/><rect x="783" y="166" width="7" height="11" fill="#7ec2e8"/><rect x="790" y="166" width="20" height="11" fill="#a2daf5"/><rect x="136" y="177" width="6" height="10" fill="#f0f9fd"/><rect x="203" y="177" width="27" height="10" fill="#f0f9fd"/><rect x="230" y="177" width="7" height="10" fill="#dcf1fa"/><rect x="237" y="177" width="13" height="10" fill="#f0f9fd"/><rect x="365" y="177" width="20" height="10" fill="#f0f9fd"/><rect x="614" y="177" width="7" height="10" fill="#fffbe5"/><rect x="621" y="177" width="7" height="10" fill="#fdd981"/><rect x="628" y="177" width="27" height="10" fill="#fdbe50"/><rect x="655" y="177" width="7" height="10" fill="#fdd981"/><rect x="662" y="177" width="6" height="10" fill="#fef0b3"/><rect x="675" y="177" width="7" height="10" fill="#f0f9fd"/><rect x="682" y="177" width="7" height="10" fill="#c2e7f8"/><rect x="689" y="177" width="27" height="10" fill="#dcf1fa"/><rect x="716" y="177" width="6" height="10" fill="#c2e7f8"/><rect x="722" y="177" width="14" height="10" fill="#a2daf5"/><rect x="736" y="177" width="7" height="10" fill="#7ec2e8"/><rect x="743" y="177" width="6" height="10" fill="#5da9db"/><rect x="749" y="177" width="7" height="10" fill="#2458a8"/><rect x="756" y="177" width="7" height="10" fill="#213f82"/><rect x="763" y="177" width="7" height="10" fill="#2458a8"/><rect x="770" y="177" width="6" height="10" fill="#5da9db"/><rect x="776" y="177" width="14" height="10" fill="#7ec2e8"/><rect x="790" y="177" width="20" height="10" fill="#a2daf5"/><rect x="136" y="187" width="13" height="10" fill="#f0f9fd"/><rect x="196" y="187" width="54" height="10" fill="#f0f9fd"/><rect x="581" y="187" width="13" height="10" fill="#f0f9fd"/><rect x="614" y="187" width="7" height="10" fill="#fffbe5"/><rect x="621" y="187" width="7" height="10" fill="#fef0b3"/><rect x="628" y="187" width="7" height="10" fill="#fdd981"/><rect x="635" y="187" width="6" height="10" fill="#fdbe50"/><rect x="641" y="187" width="14" height="10" fill="#fdd981"/><rect x="655" y="187" width="13" height="10" fill="#fef0b3"/><rect x="675" y="187" width="7" height="10" fill="#f0f9fd"/><rect x="682" y="187" width="40" height="10" fill="#dcf1fa"/><rect x="722" y="187" width="14" height="10" fill="#c2e7f8"/><rect x="736" y="187" width="7" height="10" fill="#a2daf5"/><rect x="743" y="187" width="6" height="10" fill="#5da9db"/><rect x="749" y="187" width="14" height="10" fill="#4182c3"/><rect x="763" y="187" width="7" height="10" fill="#5da9db"/><rect x="770" y="187" width="6" height="10" fill="#7ec2e8"/><rect x="776" y="187" width="21" height="10" fill="#a2daf5"/><rect x="797" y="187" width="13" height="10" fill="#c2e7f8"/><rect x="136" y="197" width="20" height="11" fill="#f0f9fd"/><rect x="196" y="197" width="48" height="11" fill="#f0f9fd"/><rect x="486" y="197" width="21" height="11" fill="#fffbe5"/><rect x="547" y="197" width="27" height="11" fill="#f0f9fd"/><rect x="574" y="197" width="20" height="11" fill="#dcf1fa"/><rect x="628" y="197" width="7" height="11" fill="#fffbe5"/><rect x="635" y="197" width="27" height="11" fill="#fef0b3"/><rect x="662" y="197" width="6" height="11" fill="#fdd981"/><rect x="668" y="197" width="7" height="11" fill="#fffbe5"/><rect x="689" y="197" width="6" height="11" fill="#f0f9fd"/><rect x="695" y="197" width="27" height="11" fill="#dcf1fa"/><rect x="722" y="197" width="14" height="11" fill="#c2e7f8"/><rect x="736" y="197" width="7" height="11" fill="#7ec2e8"/><rect x="743" y="197" width="6" height="11" fill="#5da9db"/><rect x="749" y="197" width="14" height="11" fill="#4182c3"/><rect x="763" y="197" width="7" height="11" fill="#5da9db"/><rect x="770" y="197" width="6" height="11" fill="#7ec2e8"/><rect x="776" y="197" width="27" height="11" fill="#a2daf5"/><rect x="803" y="197" width="7" height="11" fill="#c2e7f8"/><rect x="136" y="208" width="13" height="10" fill="#dcf1fa"/><rect x="149" y="208" width="14" height="10" fill="#f0f9fd"/><rect x="190" y="208" width="54" height="10" fill="#f0f9fd"/><rect x="540" y="208" width="7" height="10" fill="#f0f9fd"/><rect x="547" y="208" width="13" height="10" fill="#dcf1fa"/><rect x="560" y="208" width="27" height="10" fill="#f0f9fd"/><rect x="601" y="208" width="7" height="10" fill="#fffbe5"/><rect x="608" y="208" width="6" height="10" fill="#fef0b3"/><rect x="614" y="208" width="7" height="10" fill="#fdd981"/><rect x="621" y="208" width="7" height="10" fill="#fef0b3"/><rect x="628" y="208" width="7" height="10" fill="#fdd981"/><rect x="635" y="208" width="13" height="10" fill="#fef0b3"/><rect x="648" y="208" width="20" height="10" fill="#fdbe50"/><rect x="668" y="208" width="7" height="10" fill="#fef0b3"/><rect x="675" y="208" width="14" height="10" fill="#fffbe5"/><rect x="689" y="208" width="6" height="10" fill="#fef0b3"/><rect x="722" y="208" width="7" height="10" fill="#f0f9fd"/><rect x="729" y="208" width="7" height="10" fill="#dcf1fa"/><rect x="736" y="208" width="7" height="10" fill="#c2e7f8"/><rect x="743" y="208" width="6" height="10" fill="#7ec2e8"/><rect x="749" y="208" width="27" height="10" fill="#5da9db"/><rect x="776" y="208" width="14" height="10" fill="#7ec2e8"/><rect x="790" y="208" width="13" height="10" fill="#5da9db"/><rect x="803" y="208" width="7" height="10" fill="#7ec2e8"/><rect x="136" y="218" width="13" height="11" fill="#dcf1fa"/><rect x="149" y="218" width="14" height="11" fill="#f0f9fd"/><rect x="217" y="218" width="6" height="11" fill="#f0f9fd"/><rect x="500" y="218" width="27" height="11" fill="#fffbe5"/><rect x="547" y="218" width="34" height="11" fill="#f0f9fd"/><rect x="601" y="218" width="7" height="11" fill="#fffbe5"/><rect x="608" y="218" width="20" height="11" fill="#fef0b3"/><rect x="628" y="218" width="7" height="11" fill="#fffbe5"/><rect x="635" y="218" width="13" height="11" fill="#fef0b3"/><rect x="648" y="218" width="7" height="11" fill="#fdd981"/><rect x="655" y="218" width="13" height="11" fill="#fdbe50"/><rect x="668" y="218" width="7" height="11" fill="#fef0b3"/><rect x="675" y="218" width="7" height="11" fill="#fffbe5"/><rect x="682" y="218" width="13" height="11" fill="#fef0b3"/><rect x="709" y="218" width="13" height="11" fill="#f0f9fd"/><rect x="722" y="218" width="7" height="11" fill="#dcf1fa"/><rect x="729" y="218" width="7" height="11" fill="#c2e7f8"/><rect x="736" y="218" width="7" height="11" fill="#a2daf5"/><rect x="743" y="218" width="27" height="11" fill="#7ec2e8"/><rect x="770" y="218" width="13" height="11" fill="#5da9db"/><rect x="783" y="218" width="7" height="11" fill="#7ec2e8"/><rect x="790" y="218" width="7" height="11" fill="#5da9db"/><rect x="797" y="218" width="6" height="11" fill="#7ec2e8"/><rect x="803" y="218" width="7" height="11" fill="#a2daf5"/><rect x="136" y="229" width="6" height="10" fill="#dcf1fa"/><rect x="142" y="229" width="21" height="10" fill="#f0f9fd"/><rect x="203" y="229" width="34" height="10" fill="#f0f9fd"/><rect x="500" y="229" width="20" height="10" fill="#fffbe5"/><rect x="608" y="229" width="13" height="10" fill="#fffbe5"/><rect x="635" y="229" width="13" height="10" fill="#fffbe5"/><rect x="648" y="229" width="20" height="10" fill="#fdd981"/><rect x="668" y="229" width="7" height="10" fill="#fffbe5"/><rect x="682" y="229" width="13" height="10" fill="#fffbe5"/><rect x="716" y="229" width="13" height="10" fill="#f0f9fd"/><rect x="729" y="229" width="7" height="10" fill="#c2e7f8"/><rect x="736" y="229" width="7" height="10" fill="#a2daf5"/><rect x="743" y="229" width="27" height="10" fill="#7ec2e8"/><rect x="770" y="229" width="6" height="10" fill="#5da9db"/><rect x="776" y="229" width="21" height="10" fill="#7ec2e8"/><rect x="797" y="229" width="13" height="10" fill="#a2daf5"/><rect x="136" y="239" width="20" height="11" fill="#f0f9fd"/><rect x="203" y="239" width="34" height="11" fill="#f0f9fd"/><rect x="500" y="239" width="27" height="11" fill="#fffbe5"/><rect x="594" y="239" width="14" height="11" fill="#fffbe5"/><rect x="608" y="239" width="40" height="11" fill="#fef0b3"/><rect x="648" y="239" width="7" height="11" fill="#fdd981"/><rect x="655" y="239" width="13" height="11" fill="#fef0b3"/><rect x="668" y="239" width="7" height="11" fill="#fffbe5"/><rect x="729" y="239" width="7" height="11" fill="#f0f9fd"/><rect x="736" y="239" width="7" height="11" fill="#c2e7f8"/><rect x="743" y="239" width="6" height="11" fill="#a2daf5"/><rect x="749" y="239" width="41" height="11" fill="#7ec2e8"/><rect x="790" y="239" width="13" height="11" fill="#a2daf5"/><rect x="803" y="239" width="7" height="11" fill="#c2e7f8"/><rect x="136" y="250" width="13" height="10" fill="#f0f9fd"/><rect x="500" y="250" width="27" height="10" fill="#fffbe5"/><rect x="594" y="250" width="7" height="10" fill="#fffbe5"/><rect x="601" y="250" width="7" height="10" fill="#fef0b3"/><rect x="608" y="250" width="6" height="10" fill="#fdd981"/><rect x="614" y="250" width="14" height="10" fill="#fef0b3"/><rect x="628" y="250" width="13" height="10" fill="#fdd981"/><rect x="641" y="250" width="7" height="10" fill="#fef0b3"/><rect x="648" y="250" width="7" height="10" fill="#fdd981"/><rect x="655" y="250" width="7" height="10" fill="#fef0b3"/><rect x="662" y="250" width="6" height="10" fill="#fdd981"/><rect x="668" y="250" width="7" height="10" fill="#fffbe5"/><rect x="729" y="250" width="7" height="10" fill="#f0f9fd"/><rect x="736" y="250" width="7" height="10" fill="#c2e7f8"/><rect x="743" y="250" width="6" height="10" fill="#a2daf5"/><rect x="749" y="250" width="41" height="10" fill="#7ec2e8"/><rect x="790" y="250" width="13" height="10" fill="#a2daf5"/><rect x="803" y="250" width="7" height="10" fill="#c2e7f8"/><rect x="581" y="260" width="27" height="10" fill="#fffbe5"/><rect x="608" y="260" width="6" height="10" fill="#fef0b3"/><rect x="614" y="260" width="34" height="10" fill="#fffbe5"/><rect x="662" y="260" width="6" height="10" fill="#fffbe5"/><rect x="729" y="260" width="7" height="10" fill="#f0f9fd"/><rect x="736" y="260" width="7" height="10" fill="#dcf1fa"/><rect x="743" y="260" width="6" height="10" fill="#c2e7f8"/><rect x="749" y="260" width="14" height="10" fill="#a2daf5"/><rect x="763" y="260" width="27" height="10" fill="#7ec2e8"/><rect x="790" y="260" width="7" height="10" fill="#a2daf5"/><rect x="797" y="260" width="6" height="10" fill="#c2e7f8"/><rect x="803" y="260" width="7" height="10" fill="#dcf1fa"/><rect x="136" y="270" width="20" height="11" fill="#f0f9fd"/><rect x="540" y="270" width="27" height="11" fill="#fffbe5"/><rect x="567" y="270" width="47" height="11" fill="#fef0b3"/><rect x="614" y="270" width="34" height="11" fill="#fffbe5"/><rect x="695" y="270" width="14" height="11" fill="#f0f9fd"/><rect x="722" y="270" width="21" height="11" fill="#f0f9fd"/><rect x="743" y="270" width="6" height="11" fill="#dcf1fa"/><rect x="749" y="270" width="7" height="11" fill="#c2e7f8"/><rect x="756" y="270" width="14" height="11" fill="#a2daf5"/><rect x="770" y="270" width="20" height="11" fill="#7ec2e8"/><rect x="790" y="270" width="7" height="11" fill="#a2daf5"/><rect x="797" y="270" width="6" height="11" fill="#c2e7f8"/><rect x="803" y="270" width="7" height="11" fill="#dcf1fa"/><rect x="136" y="281" width="13" height="15" fill="#f0f9fd"/><rect x="554" y="281" width="13" height="15" fill="#fffbe5"/><rect x="567" y="281" width="54" height="15" fill="#fef0b3"/><rect x="621" y="281" width="47" height="15" fill="#fffbe5"/><rect x="695" y="281" width="14" height="15" fill="#f0f9fd"/><rect x="722" y="281" width="21" height="15" fill="#f0f9fd"/><rect x="743" y="281" width="6" height="15" fill="#dcf1fa"/><rect x="749" y="281" width="7" height="15" fill="#c2e7f8"/><rect x="756" y="281" width="14" height="15" fill="#a2daf5"/><rect x="770" y="281" width="20" height="15" fill="#7ec2e8"/><rect x="790" y="281" width="7" height="15" fill="#a2daf5"/><rect x="797" y="281" width="6" height="15" fill="#c2e7f8"/><rect x="803" y="281" width="7" height="15" fill="#dcf1fa"/><rect x="554" y="296" width="13" height="21" fill="#fffbe5"/><rect x="567" y="296" width="14" height="21" fill="#fef0b3"/><rect x="581" y="296" width="6" height="21" fill="#fdd981"/><rect x="587" y="296" width="14" height="21" fill="#fef0b3"/><rect x="601" y="296" width="34" height="21" fill="#fdd981"/><rect x="635" y="296" width="13" height="21" fill="#fef0b3"/><rect x="648" y="296" width="14" height="21" fill="#fffbe5"/><rect x="689" y="296" width="40" height="21" fill="#f0f9fd"/><rect x="736" y="296" width="7" height="21" fill="#f0f9fd"/><rect x="743" y="296" width="6" height="21" fill="#dcf1fa"/><rect x="749" y="296" width="14" height="21" fill="#c2e7f8"/><rect x="763" y="296" width="13" height="21" fill="#a2daf5"/><rect x="776" y="296" width="7" height="21" fill="#7ec2e8"/><rect x="783" y="296" width="14" height="21" fill="#a2daf5"/><rect x="797" y="296" width="6" height="21" fill="#c2e7f8"/><rect x="803" y="296" width="7" height="21" fill="#dcf1fa"/><rect x="560" y="317" width="14" height="21" fill="#fffbe5"/><rect x="574" y="317" width="34" height="21" fill="#fef0b3"/><rect x="608" y="317" width="20" height="21" fill="#fdd981"/><rect x="628" y="317" width="20" height="21" fill="#fef0b3"/><rect x="648" y="317" width="20" height="21" fill="#fffbe5"/><rect x="689" y="317" width="13" height="21" fill="#f0f9fd"/><rect x="702" y="317" width="7" height="21" fill="#dcf1fa"/><rect x="709" y="317" width="20" height="21" fill="#f0f9fd"/><rect x="736" y="317" width="7" height="21" fill="#f0f9fd"/><rect x="743" y="317" width="13" height="21" fill="#dcf1fa"/><rect x="756" y="317" width="41" height="21" fill="#c2e7f8"/><rect x="797" y="317" width="6" height="21" fill="#dcf1fa"/><rect x="803" y="317" width="7" height="21" fill="#f0f9fd"/><rect x="567" y="338" width="34" height="21" fill="#fffbe5"/><rect x="601" y="338" width="40" height="21" fill="#fef0b3"/><rect x="641" y="338" width="14" height="21" fill="#fffbe5"/><rect x="689" y="338" width="40" height="21" fill="#f0f9fd"/><rect x="736" y="338" width="7" height="21" fill="#f0f9fd"/><rect x="743" y="338" width="13" height="21" fill="#dcf1fa"/><rect x="756" y="338" width="41" height="21" fill="#c2e7f8"/><rect x="797" y="338" width="6" height="21" fill="#dcf1fa"/><rect x="803" y="338" width="7" height="21" fill="#f0f9fd"/><rect x="365" y="359" width="13" height="21" fill="#fffbe5"/><rect x="554" y="359" width="47" height="21" fill="#fffbe5"/><rect x="601" y="359" width="20" height="21" fill="#fef0b3"/><rect x="621" y="359" width="34" height="21" fill="#fffbe5"/><rect x="689" y="359" width="40" height="21" fill="#f0f9fd"/><rect x="729" y="359" width="34" height="21" fill="#dcf1fa"/><rect x="763" y="359" width="27" height="21" fill="#c2e7f8"/><rect x="790" y="359" width="13" height="21" fill="#dcf1fa"/><rect x="803" y="359" width="7" height="21" fill="#f0f9fd"/><rect x="608" y="380" width="27" height="21" fill="#fffbe5"/><rect x="675" y="380" width="54" height="21" fill="#f0f9fd"/><rect x="729" y="380" width="34" height="21" fill="#dcf1fa"/><rect x="763" y="380" width="34" height="21" fill="#c2e7f8"/><rect x="797" y="380" width="6" height="21" fill="#dcf1fa"/><rect x="803" y="380" width="7" height="21" fill="#f0f9fd"/><rect x="614" y="401" width="14" height="21" fill="#fffbe5"/><rect x="675" y="401" width="20" height="21" fill="#f0f9fd"/><rect x="695" y="401" width="21" height="21" fill="#dcf1fa"/><rect x="716" y="401" width="33" height="21" fill="#f0f9fd"/><rect x="749" y="401" width="48" height="21" fill="#dcf1fa"/><rect x="797" y="401" width="13" height="21" fill="#f0f9fd"/><rect x="608" y="422" width="13" height="20" fill="#fffbe5"/><rect x="675" y="422" width="20" height="20" fill="#f0f9fd"/><rect x="695" y="422" width="21" height="20" fill="#dcf1fa"/><rect x="716" y="422" width="6" height="20" fill="#f0f9fd"/><rect x="743" y="422" width="27" height="20" fill="#f0f9fd"/><rect x="770" y="422" width="6" height="20" fill="#dcf1fa"/><rect x="776" y="422" width="14" height="20" fill="#f0f9fd"/><rect x="790" y="422" width="7" height="20" fill="#dcf1fa"/><rect x="797" y="422" width="6" height="20" fill="#f0f9fd"/><rect x="533" y="442" width="21" height="21" fill="#f0f9fd"/><rect x="581" y="442" width="40" height="21" fill="#fffbe5"/><rect x="695" y="442" width="14" height="21" fill="#f0f9fd"/><rect x="709" y="442" width="7" height="21" fill="#dcf1fa"/><rect x="716" y="442" width="6" height="21" fill="#f0f9fd"/><rect x="756" y="442" width="20" height="21" fill="#f0f9fd"/><rect x="783" y="442" width="14" height="21" fill="#f0f9fd"/><rect x="533" y="463" width="7" height="32" fill="#f0f9fd"/><rect x="587" y="463" width="7" height="32" fill="#fffbe5"/><rect x="702" y="463" width="14" height="32" fill="#f0f9fd"/><rect x="770" y="463" width="6" height="32" fill="#f0f9fd"/><rect x="790" y="463" width="7" height="32" fill="#f0f9fd"/><rect x="614" y="495" width="7" height="21" fill="#fffbe5"/><rect x="797" y="495" width="13" height="21" fill="#fffbe5"/></g>
<path d="M142.50 98.30V515.50M149.50 98.30V515.50M156.50 98.30V515.50M163.50 98.30V515.50M169.50 98.30V515.50M176.50 98.30V515.50M183.50 98.30V515.50M190.50 98.30V515.50M196.50 98.30V515.50M203.50 98.30V515.50M210.50 98.30V515.50M217.50 98.30V515.50M223.50 98.30V515.50M230.50 98.30V515.50M237.50 98.30V515.50M244.50 98.30V515.50M250.50 98.30V515.50M257.50 98.30V515.50M264.50 98.30V515.50M270.50 98.30V515.50M277.50 98.30V515.50M284.50 98.30V515.50M291.50 98.30V515.50M297.50 98.30V515.50M304.50 98.30V515.50M311.50 98.30V515.50M318.50 98.30V515.50M324.50 98.30V515.50M331.50 98.30V515.50M338.50 98.30V515.50M345.50 98.30V515.50M351.50 98.30V515.50M358.50 98.30V515.50M365.50 98.30V515.50M372.50 98.30V515.50M378.50 98.30V515.50M385.50 98.30V515.50M392.50 98.30V515.50M399.50 98.30V515.50M405.50 98.30V515.50M412.50 98.30V515.50M419.50 98.30V515.50M426.50 98.30V515.50M432.50 98.30V515.50M439.50 98.30V515.50M446.50 98.30V515.50M453.50 98.30V515.50M459.50 98.30V515.50M466.50 98.30V515.50M473.50 98.30V515.50M480.50 98.30V515.50M486.50 98.30V515.50M493.50 98.30V515.50M500.50 98.30V515.50M507.50 98.30V515.50M513.50 98.30V515.50M520.50 98.30V515.50M527.50 98.30V515.50M533.50 98.30V515.50M540.50 98.30V515.50M547.50 98.30V515.50M554.50 98.30V515.50M560.50 98.30V515.50M567.50 98.30V515.50M574.50 98.30V515.50M581.50 98.30V515.50M587.50 98.30V515.50M594.50 98.30V515.50M601.50 98.30V515.50M608.50 98.30V515.50M614.50 98.30V515.50M621.50 98.30V515.50M628.50 98.30V515.50M635.50 98.30V515.50M641.50 98.30V515.50M648.50 98.30V515.50M655.50 98.30V515.50M662.50 98.30V515.50M668.50 98.30V515.50M675.50 98.30V515.50M682.50 98.30V515.50M689.50 98.30V515.50M695.50 98.30V515.50M702.50 98.30V515.50M709.50 98.30V515.50M716.50 98.30V515.50M722.50 98.30V515.50M729.50 98.30V515.50M736.50 98.30V515.50M743.50 98.30V515.50M749.50 98.30V515.50M756.50 98.30V515.50M763.50 98.30V515.50M770.50 98.30V515.50M776.50 98.30V515.50M783.50 98.30V515.50M790.50 98.30V515.50M797.50 98.30V515.50M803.50 98.30V515.50M135.60 101.50H810.00M135.60 104.50H810.00M135.60 106.50H810.00M135.60 108.50H810.00M135.60 110.50H810.00M135.60 112.50H810.00M135.60 114.50H810.00M135.60 117.50H810.00M135.60 121.50H810.00M135.60 125.50H810.00M135.60 130.50H810.00M135.60 134.50H810.00M135.60 138.50H810.00M135.60 145.50H810.00M135.60 156.50H810.00M135.60 166.50H810.00M135.60 177.50H810.00M135.60 187.50H810.00M135.60 197.50H810.00M135.60 208.50H810.00M135.60 218.50H810.00M135.60 229.50H810.00M135.60 239.50H810.00M135.60 250.50H810.00M135.60 260.50H810.00M135.60 270.50H810.00M135.60 281.50H810.00M135.60 296.50H810.00M135.60 317.50H810.00M135.60 338.50H810.00M135.60 359.50H810.00M135.60 380.50H810.00M135.60 401.50H810.00M135.60 422.50H810.00M135.60 442.50H810.00M135.60 463.50H810.00M135.60 495.50H810.00" stroke="#fff" stroke-opacity="0.08" stroke-width="1" fill="none"/>
<rect x="135.60" y="98.30" width="674.40" height="417.20" fill="none" stroke="#000" stroke-width="2.2"/><line x1="169.32" y1="515.50" x2="169.32" y2="531.00" stroke="#000" stroke-width="2.2"/><line x1="169.32" y1="98.30" x2="169.32" y2="82.80" stroke="#000" stroke-width="2.2"/><line x1="236.76" y1="515.50" x2="236.76" y2="523.50" stroke="#000" stroke-width="1.6"/><line x1="236.76" y1="98.30" x2="236.76" y2="90.30" stroke="#000" stroke-width="1.6"/><line x1="304.20" y1="515.50" x2="304.20" y2="523.50" stroke="#000" stroke-width="1.6"/><line x1="304.20" y1="98.30" x2="304.20" y2="90.30" stroke="#000" stroke-width="1.6"/><line x1="371.64" y1="515.50" x2="371.64" y2="531.00" stroke="#000" stroke-width="2.2"/><line x1="371.64" y1="98.30" x2="371.64" y2="82.80" stroke="#000" stroke-width="2.2"/><line x1="439.08" y1="515.50" x2="439.08" y2="523.50" stroke="#000" stroke-width="1.6"/><line x1="439.08" y1="98.30" x2="439.08" y2="90.30" stroke="#000" stroke-width="1.6"/><line x1="506.52" y1="515.50" x2="506.52" y2="523.50" stroke="#000" stroke-width="1.6"/><line x1="506.52" y1="98.30" x2="506.52" y2="90.30" stroke="#000" stroke-width="1.6"/><line x1="573.96" y1="515.50" x2="573.96" y2="531.00" stroke="#000" stroke-width="2.2"/><line x1="573.96" y1="98.30" x2="573.96" y2="82.80" stroke="#000" stroke-width="2.2"/><line x1="641.40" y1="515.50" x2="641.40" y2="523.50" stroke="#000" stroke-width="1.6"/><line x1="641.40" y1="98.30" x2="641.40" y2="90.30" stroke="#000" stroke-width="1.6"/><line x1="708.84" y1="515.50" x2="708.84" y2="523.50" stroke="#000" stroke-width="1.6"/><line x1="708.84" y1="98.30" x2="708.84" y2="90.30" stroke="#000" stroke-width="1.6"/><line x1="776.28" y1="515.50" x2="776.28" y2="531.00" stroke="#000" stroke-width="2.2"/><line x1="776.28" y1="98.30" x2="776.28" y2="82.80" stroke="#000" stroke-width="2.2"/><line x1="135.60" y1="119.16" x2="127.60" y2="119.16" stroke="#000" stroke-width="1.6"/><line x1="810.00" y1="119.16" x2="818.00" y2="119.16" stroke="#000" stroke-width="1.6"/><line x1="135.60" y1="140.02" x2="127.60" y2="140.02" stroke="#000" stroke-width="1.6"/><line x1="810.00" y1="140.02" x2="818.00" y2="140.02" stroke="#000" stroke-width="1.6"/><line x1="135.60" y1="160.88" x2="120.10" y2="160.88" stroke="#000" stroke-width="2.2"/><line x1="810.00" y1="160.88" x2="825.50" y2="160.88" stroke="#000" stroke-width="2.2"/><line x1="135.60" y1="181.74" x2="127.60" y2="181.74" stroke="#000" stroke-width="1.6"/><line x1="810.00" y1="181.74" x2="818.00" y2="181.74" stroke="#000" stroke-width="1.6"/><line x1="135.60" y1="202.60" x2="127.60" y2="202.60" stroke="#000" stroke-width="1.6"/><line x1="810.00" y1="202.60" x2="818.00" y2="202.60" stroke="#000" stroke-width="1.6"/><line x1="135.60" y1="223.46" x2="120.10" y2="223.46" stroke="#000" stroke-width="2.2"/><line x1="810.00" y1="223.46" x2="825.50" y2="223.46" stroke="#000" stroke-width="2.2"/><line x1="135.60" y1="244.32" x2="127.60" y2="244.32" stroke="#000" stroke-width="1.6"/><line x1="810.00" y1="244.32" x2="818.00" y2="244.32" stroke="#000" stroke-width="1.6"/><line x1="135.60" y1="265.18" x2="127.60" y2="265.18" stroke="#000" stroke-width="1.6"/><line x1="810.00" y1="265.18" x2="818.00" y2="265.18" stroke="#000" stroke-width="1.6"/><line x1="135.60" y1="286.04" x2="120.10" y2="286.04" stroke="#000" stroke-width="2.2"/><line x1="810.00" y1="286.04" x2="825.50" y2="286.04" stroke="#000" stroke-width="2.2"/><line x1="135.60" y1="306.90" x2="127.60" y2="306.90" stroke="#000" stroke-width="1.6"/><line x1="810.00" y1="306.90" x2="818.00" y2="306.90" stroke="#000" stroke-width="1.6"/><line x1="135.60" y1="327.76" x2="127.60" y2="327.76" stroke="#000" stroke-width="1.6"/><line x1="810.00" y1="327.76" x2="818.00" y2="327.76" stroke="#000" stroke-width="1.6"/><line x1="135.60" y1="348.62" x2="120.10" y2="348.62" stroke="#000" stroke-width="2.2"/><line x1="810.00" y1="348.62" x2="825.50" y2="348.62" stroke="#000" stroke-width="2.2"/><line x1="135.60" y1="369.48" x2="127.60" y2="369.48" stroke="#000" stroke-width="1.6"/><line x1="810.00" y1="369.48" x2="818.00" y2="369.48" stroke="#000" stroke-width="1.6"/><line x1="135.60" y1="390.34" x2="127.60" y2="390.34" stroke="#000" stroke-width="1.6"/><line x1="810.00" y1="390.34" x2="818.00" y2="390.34" stroke="#000" stroke-width="1.6"/><line x1="135.60" y1="411.20" x2="120.10" y2="411.20" stroke="#000" stroke-width="2.2"/><line x1="810.00" y1="411.20" x2="825.50" y2="411.20" stroke="#000" stroke-width="2.2"/><line x1="135.60" y1="432.06" x2="127.60" y2="432.06" stroke="#000" stroke-width="1.6"/><line x1="810.00" y1="432.06" x2="818.00" y2="432.06" stroke="#000" stroke-width="1.6"/><line x1="135.60" y1="452.92" x2="127.60" y2="452.92" stroke="#000" stroke-width="1.6"/><line x1="810.00" y1="452.92" x2="818.00" y2="452.92" stroke="#000" stroke-width="1.6"/><line x1="135.60" y1="473.78" x2="120.10" y2="473.78" stroke="#000" stroke-width="2.2"/><line x1="810.00" y1="473.78" x2="825.50" y2="473.78" stroke="#000" stroke-width="2.2"/><line x1="135.60" y1="494.64" x2="127.60" y2="494.64" stroke="#000" stroke-width="1.6"/><line x1="810.00" y1="494.64" x2="818.00" y2="494.64" stroke="#000" stroke-width="1.6"/><line x1="135.60" y1="515.50" x2="127.60" y2="515.50" stroke="#000" stroke-width="1.6"/><line x1="810.00" y1="515.50" x2="818.00" y2="515.50" stroke="#000" stroke-width="1.6"/>
<rect x="175.20" y="597.0" width="27.05" height="37.0" fill="#1b2a5e" stroke="#000" stroke-width="1.3"/><rect x="202.25" y="597.0" width="27.05" height="37.0" fill="#213f82" stroke="#000" stroke-width="1.3"/><rect x="229.29" y="597.0" width="27.05" height="37.0" fill="#2458a8" stroke="#000" stroke-width="1.3"/><rect x="256.34" y="597.0" width="27.05" height="37.0" fill="#4182c3" stroke="#000" stroke-width="1.3"/><rect x="283.38" y="597.0" width="27.05" height="37.0" fill="#5da9db" stroke="#000" stroke-width="1.3"/><rect x="310.43" y="597.0" width="27.05" height="37.0" fill="#7ec2e8" stroke="#000" stroke-width="1.3"/><rect x="337.47" y="597.0" width="27.05" height="37.0" fill="#a2daf5" stroke="#000" stroke-width="1.3"/><rect x="364.52" y="597.0" width="27.05" height="37.0" fill="#c2e7f8" stroke="#000" stroke-width="1.3"/><rect x="391.56" y="597.0" width="27.05" height="37.0" fill="#dcf1fa" stroke="#000" stroke-width="1.3"/><rect x="418.61" y="597.0" width="27.05" height="37.0" fill="#f0f9fd" stroke="#000" stroke-width="1.3"/><rect x="445.65" y="597.0" width="27.05" height="37.0" fill="#ffffff" stroke="#000" stroke-width="1.3"/><rect x="472.70" y="597.0" width="27.05" height="37.0" fill="#ffffff" stroke="#000" stroke-width="1.3"/><rect x="499.75" y="597.0" width="27.05" height="37.0" fill="#fffbe5" stroke="#000" stroke-width="1.3"/><rect x="526.79" y="597.0" width="27.05" height="37.0" fill="#fef0b3" stroke="#000" stroke-width="1.3"/><rect x="553.84" y="597.0" width="27.05" height="37.0" fill="#fdd981" stroke="#000" stroke-width="1.3"/><rect x="580.88" y="597.0" width="27.05" height="37.0" fill="#fdbe50" stroke="#000" stroke-width="1.3"/><rect x="607.93" y="597.0" width="27.05" height="37.0" fill="#f99d32" stroke="#000" stroke-width="1.3"/><rect x="634.97" y="597.0" width="27.05" height="37.0" fill="#f57c2a" stroke="#000" stroke-width="1.3"/><rect x="662.02" y="597.0" width="27.05" height="37.0" fill="#e95628" stroke="#000" stroke-width="1.3"/><rect x="689.06" y="597.0" width="27.05" height="37.0" fill="#d93128" stroke="#000" stroke-width="1.3"/><rect x="716.11" y="597.0" width="27.05" height="37.0" fill="#bd1f26" stroke="#000" stroke-width="1.3"/><rect x="743.15" y="597.0" width="27.05" height="37.0" fill="#9a171c" stroke="#000" stroke-width="1.3"/>
<text x="473.40" y="27.30" font-size="38.6"  text-anchor="middle" >temperature</text><text x="135.60" y="79.20" font-size="23.3" font-weight="bold" text-anchor="start" >year=(1990:1990)</text><text x="811.00" y="79.20" font-size="23.3" font-weight="bold" text-anchor="end" >range (-0.9 : 0.8) degree Celsius</text><text x="103.20" y="169.88" font-size="25.5"  text-anchor="end" >300</text><text x="103.20" y="232.46" font-size="25.5"  text-anchor="end" >600</text><text x="103.20" y="295.04" font-size="25.5"  text-anchor="end" >900</text><text x="103.20" y="357.62" font-size="25.5"  text-anchor="end" >1200</text><text x="103.20" y="420.20" font-size="25.5"  text-anchor="end" >1500</text><text x="103.20" y="482.78" font-size="25.5"  text-anchor="end" >1800</text><text x="169.32" y="567.20" font-size="25.5"  text-anchor="middle" >30S</text><text x="371.64" y="567.20" font-size="25.5"  text-anchor="middle" >0</text><text x="573.96" y="567.20" font-size="25.5"  text-anchor="middle" >30N</text><text x="776.28" y="567.20" font-size="25.5"  text-anchor="middle" >60N</text><text x="202.25" y="662.20" font-size="23"  text-anchor="middle" >-1</text><text x="256.34" y="662.20" font-size="23"  text-anchor="middle" >-0.8</text><text x="310.43" y="662.20" font-size="23"  text-anchor="middle" >-0.6</text><text x="364.52" y="662.20" font-size="23"  text-anchor="middle" >-0.4</text><text x="418.61" y="662.20" font-size="23"  text-anchor="middle" >-0.2</text><text x="472.70" y="662.20" font-size="23"  text-anchor="middle" >0</text><text x="526.79" y="662.20" font-size="23"  text-anchor="middle" >0.2</text><text x="580.88" y="662.20" font-size="23"  text-anchor="middle" >0.4</text><text x="634.97" y="662.20" font-size="23"  text-anchor="middle" >0.6</text><text x="689.06" y="662.20" font-size="23"  text-anchor="middle" >0.8</text><text x="743.15" y="662.20" font-size="23"  text-anchor="middle" >1</text><text x="0.00" y="0.00" font-size="31"  text-anchor="middle" transform="translate(25.7,306.90) rotate(-90)">standard depth</text>
</svg>
</body></html>
